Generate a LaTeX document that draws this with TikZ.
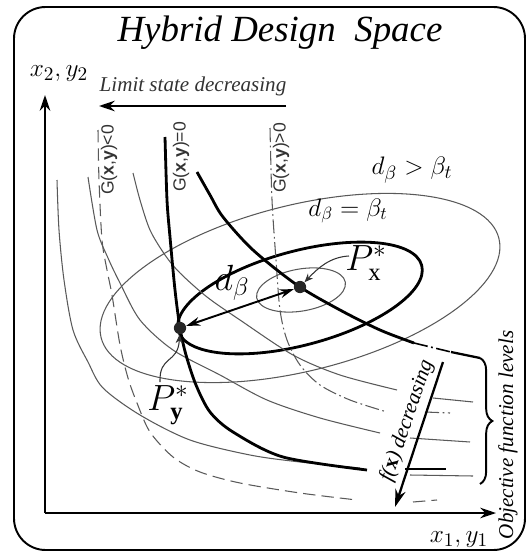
\documentclass[tikz,border=0pt]{standalone}
\usepackage{fontspec}
\setmainfont{Liberation Serif}
\setsansfont{Liberation Sans}
\usepackage{amsmath}
\usetikzlibrary{arrows.meta, decorations.pathreplacing}

\tikzset{
  lvl/.style={black!65, line width=0.6pt},
  lvlthick/.style={black, line width=1.6pt},
  lvldash/.style={black!65, line width=0.6pt, dash pattern=on 7pt off 3.5pt},
  lvldashdot/.style={black!65, line width=0.6pt, dash pattern=on 8pt off 2pt on 1pt off 2pt},
  glabel/.style={font=\sffamily\fontsize{10}{12}\selectfont, rotate=90, inner sep=0pt, text=black!80},
  mppdot/.style={circle, fill=black!85, inner sep=0pt, minimum size=7pt},
  axisarrow/.style={line width=1.2pt, -{Stealth[length=9pt,width=6pt]}},
}

\begin{document}
\begin{tikzpicture}[x=0.02cm, y=-0.02cm]
  \useasboundingbox (0,0) rectangle (528,554);

  % ---- frame and title ----
  \draw[line width=1.1pt, rounded corners=18pt] (14,7) rectangle (525,550);
  \node (title) at (280,33) {\fontsize{21}{25}\selectfont\itshape Hybrid\ Design\ \ Space};

  % ---- axes ----
  \coordinate (O) at (45,513);
  \coordinate (ytop) at (45,95);
  \coordinate (xend) at (496,513);
  \draw[axisarrow] (O) -- (ytop);
  \draw[axisarrow] (O) -- (xend);
  \node (ylab) at (59,74) {\fontsize{15}{18}\selectfont $x_2,y_2$};
  \node (xlab) at (459,540) {\fontsize{15}{18}\selectfont $x_1,y_1$};

  % ---- limit state arrow ----
  \coordinate (limR) at (286,106);
  \coordinate (limL) at (99,106);
  \draw[line width=1.2pt, -{Stealth[length=9pt,width=6pt]}] (limR) -- (limL);
  \node[text=black!80] (limtxt) at (193,86) {\fontsize{12}{14}\selectfont\itshape Limit state decreasing};

  % ---- reliability ellipses round P_x ----
  \draw[lvl, rotate around={14:(300,288)}] (300,288) ellipse [x radius=205, y radius=83];
  \draw[lvlthick, rotate around={15:(300,298)}] (300,298) ellipse [x radius=126, y radius=47];
  \draw[lvl, rotate around={10:(301,290)}] (301,290) ellipse [x radius=45, y radius=21];

  % ---- objective function levels (thin) ----
  \draw[lvl] plot[smooth] coordinates {(57,180) (59,230) (64,280) (73,330) (88,362) (103,388)
    (140,415) (190,440) (250,455) (300,462) (360,468)};
  \draw[lvl] (410,475) -- (473,476);
  \draw[lvl] plot[smooth] coordinates {(88,177) (97,230) (108,258) (120,283) (140,320) (173,350)
    (220,375) (267,400) (320,418) (380,433)};
  \draw[lvl] (410,438) -- (470,442);
  \draw[lvl] plot[smooth] coordinates {(133,173) (140,200) (150,230) (165,255) (180,273) (207,297)
    (240,320) (293,355) (340,375) (397,390)};
  \draw[lvl] (433,398) -- (473,402);

  % ---- limit state curves ----
  % G<0
  \draw[lvldash] plot[smooth] coordinates {(98,130) (99,180) (102,240) (107,270) (112,295) (120,345)
    (128,378) (137,403) (150,432) (173,457) (200,472) (240,483) (300,493) (357,500)};
  \draw[lvldash] (413,502) -- (437,500);
  % G=0
  \draw[lvlthick] plot[smooth] coordinates {(165,137) (167,200) (170,237) (175,290) (180,328)
    (186,355) (196,385) (210,412) (233,432) (283,457) (367,470)};
  \draw[lvlthick] (405,469) -- (446,469);
  % G>0
  \draw[lvldashdot] plot[smooth] coordinates {(270,128) (272,200) (276,260) (280,310) (287,340)
    (300,365) (320,385) (350,400) (387,412)};
  \draw[lvldashdot] (425,412) -- (450,413);

  % ---- objective level through P_x ----
  \draw[lvlthick] plot[smooth] coordinates {(197,172) (210,195) (223,217) (253,250) (297,285)
    (340,310) (380,330) (414,343)};
  \draw[lvldashdot, black, line width=0.9pt] (414,343) -- (451,352);
  \draw[black, line width=1.3pt] (451,352) -- (480,358);
  \draw[decorate, decoration={brace, amplitude=7pt}, line width=1.1pt] (480,358) -- (480,484);

  % ---- labels of G ----
  \node[glabel] (gneg) at (109,160) {G(\textbf{x},\textbf{y})<0};
  \node[glabel] (gzero) at (181,157) {G(\textbf{x},\textbf{y})=0};
  \node[glabel] (gpos) at (281,158) {G(\textbf{x},\textbf{y})>0};

  % ---- MPP points ----
  \node[mppdot] (Px) at (300,287) {};
  \node[mppdot] (Py) at (180,328) {};
  \draw[line width=1.1pt, {Stealth[length=8pt,width=5pt]}-{Stealth[length=8pt,width=5pt]}] (Py) -- (Px);

  \node (dlab) at (232,283) {\fontsize{22}{26}\selectfont $d_\beta$};
  \node (pxlab) at (366,263) {\fontsize{20}{24}\selectfont $P^{*}_{\mathrm{x}}$};
  \node (pylab) at (168,405) {\fontsize{20}{24}\selectfont $P^{*}_{\mathbf{y}}$};
  \coordinate (pxlead) at (349,256);
  \coordinate (pylead) at (160,382);
  \draw[black!80, line width=0.6pt, -{Stealth[length=5pt,width=4pt]}] (pxlead) .. controls (330,257) and (318,268) .. (Px);
  \draw[black!80, line width=0.6pt, -{Stealth[length=5pt,width=4pt]}] (pylead) .. controls (159,355) and (178,364) .. (Py);

  \node (dgt) at (412,170) {\fontsize{15}{18}\selectfont $d_\beta>\beta_t$};
  \node (deq) at (348,211) {\fontsize{14}{17}\selectfont $d_\beta=\beta_t$};

  % ---- f decreasing ----
  \coordinate (ftop) at (443,362);
  \coordinate (fbot) at (395,507);
  \draw[line width=1.3pt, -{Stealth[length=10pt,width=6pt]}] (ftop) -- (fbot);
  \node[rotate=71] (ftxt) at (407,421) {\fontsize{12}{14}\selectfont\itshape f(\textbf{\upshape x}) decreasing};

  \node[rotate=90] (objtxt) at (508,435) {\fontsize{12}{14}\selectfont\itshape Objective function levels};

\end{tikzpicture}
\end{document}
